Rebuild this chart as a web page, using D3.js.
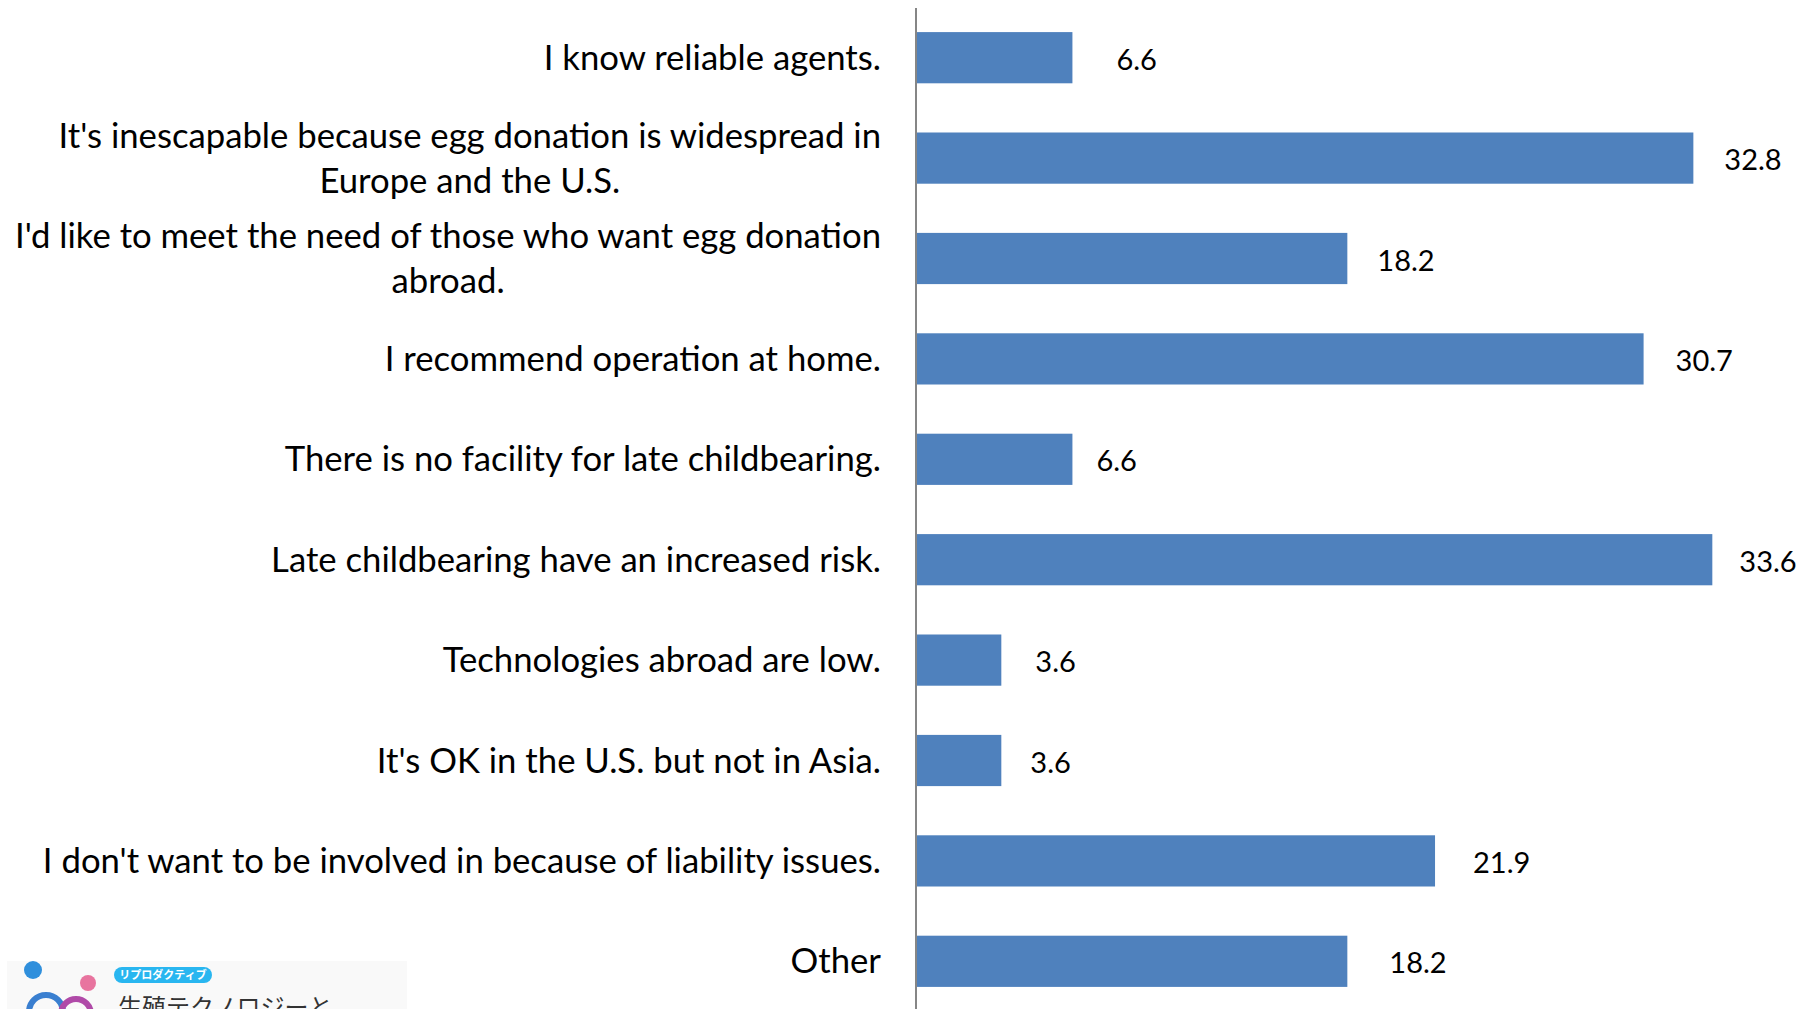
<!DOCTYPE html>
<html>
<head>
<meta charset="utf-8">
<script src="https://cdn.jsdelivr.net/npm/d3@7"></script>
<style>
  body { margin: 0; background: #fff; }
  svg { display: block; }
</style>
</head>
<body>
<div id="chart"></div>
<script>
// categories, top to bottom (each entry is the lines of the label)
var categories = [
  ["I know reliable agents."],
  ["It's inescapable because egg donation is widespread in", "Europe and the U.S."],
  ["I'd like to meet the need of those who want egg donation", "abroad."],
  ["I recommend operation at home."],
  ["There is no facility for late childbearing."],
  ["Late childbearing have an increased risk."],
  ["Technologies abroad are low."],
  ["It's OK in the U.S. but not in Asia."],
  ["I don't want to be involved in because of liability issues."],
  ["Other"]
];
var values = [6.6, 32.8, 18.2, 30.7, 6.6, 33.6, 3.6, 3.6, 21.9, 18.2];

// gap between bar end and its value label (labels were nudged by hand)
var labelGap = [44, 31, 30, 32, 24, 27, 34, 29, 38, 42];

var W = 1810, H = 1009;
var barColor = "#4f81bd";
var labelFont = "Lato, 'Open Sans', sans-serif";

var svg = d3.select("#chart").append("svg")
  .attr("width", W)
  .attr("height", H);

var keys = categories.map(function(c, i) { return i; });

var x = d3.scaleLinear().domain([0, 36]).range([916, 916 + 36 * 23.7]);
var y = d3.scaleBand().domain(keys).range([7.5, 1011.5])
  .paddingInner(0.49).paddingOuter(0.245);

// bars
svg.selectAll("rect.bar")
  .data(values)
  .enter()
  .append("rect")
  .attr("class", "bar")
  .attr("x", x(0))
  .attr("y", function(d, i) { return y(i); })
  .attr("width", function(d) { return x(d) - x(0); })
  .attr("height", y.bandwidth())
  .attr("fill", barColor);

// axis line
svg.append("line")
  .attr("x1", x(0)).attr("x2", x(0))
  .attr("y1", 8).attr("y2", H)
  .attr("stroke", "#868686")
  .attr("stroke-width", 2);

// category labels: block right aligned, lines centred inside the block
var lineH = 45;
categories.forEach(function(lines, i) {
  var cy = y(i) + y.bandwidth() / 2;
  var g = svg.append("g");
  var texts = lines.map(function(s, j) {
    return g.append("text")
      .attr("text-anchor", "middle")
      .attr("y", cy + (j - (lines.length - 1) / 2) * lineH)
      .attr("dy", "0.35em")
      .attr("font-family", labelFont)
      .attr("font-size", "34.7px")
      .attr("fill", "#000")
      .text(s);
  });
  var maxW = d3.max(texts, function(t) { return t.node().getComputedTextLength(); });
  texts.forEach(function(t) { t.attr("x", 881 - maxW / 2); });
});

// value labels
svg.selectAll("text.value")
  .data(values)
  .enter()
  .append("text")
  .attr("class", "value")
  .attr("x", function(d, i) { return x(d) + labelGap[i]; })
  .attr("y", function(d, i) { return y(i) + y.bandwidth() / 2 + 2; })
  .attr("dy", "0.35em")
  .attr("font-family", labelFont)
  .attr("font-size", "29px")
  .attr("fill", "#000")
  .text(function(d) { return d.toFixed(1); });

// logo, cut off at the bottom left
var logo = svg.append("g");
logo.append("rect").attr("x", 7).attr("y", 961).attr("width", 400).attr("height", 60).attr("fill", "#f9f9f9");
logo.append("circle").attr("cx", 33).attr("cy", 970).attr("r", 9).attr("fill", "#2f8fdc");
logo.append("circle").attr("cx", 88).attr("cy", 983).attr("r", 8).attr("fill", "#e8749f");
logo.append("circle").attr("cx", 46).attr("cy", 1012).attr("r", 17)
  .attr("fill", "none").attr("stroke", "#3a7fd0").attr("stroke-width", 6);
logo.append("circle").attr("cx", 76).attr("cy", 1014).attr("r", 15)
  .attr("fill", "none").attr("stroke", "#b04aa8").attr("stroke-width", 6);
logo.append("rect").attr("x", 114).attr("y", 967).attr("width", 98).attr("height", 16)
  .attr("rx", 8).attr("fill", "#29b6f0");
logo.append("text").attr("x", 163).attr("y", 979).attr("text-anchor", "middle")
  .attr("font-family", "'Noto Sans CJK JP', sans-serif").attr("font-size", "11px")
  .attr("font-weight", "bold").attr("fill", "#fff").text("リプロダクティブ");
logo.append("text").attr("x", 118).attr("y", 1016)
  .attr("font-family", "'Noto Sans CJK JP', sans-serif").attr("font-size", "24px")
  .attr("fill", "#333").text("生殖テクノロジーと");
</script>
</body>
</html>
